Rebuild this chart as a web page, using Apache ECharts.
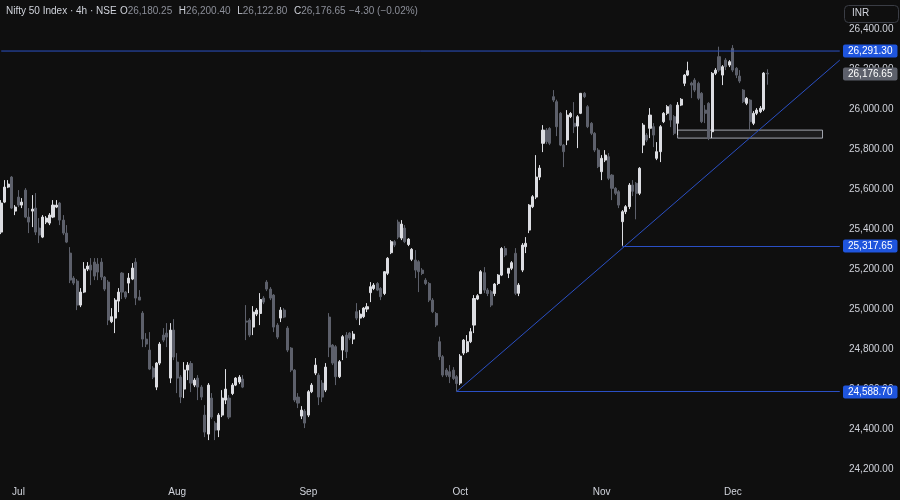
<!DOCTYPE html>
<html><head><meta charset="utf-8">
<script src="https://cdn.jsdelivr.net/npm/echarts@6/dist/echarts.min.js"></script>
<style>html,body{margin:0;padding:0;background:#0f0f0f;}#c{width:900px;height:500px;}</style>
</head><body><div id="c"></div>
<script>
// Nifty 50 Index, 4h candles: [open, close, low, high]
const monthNames = ['Jun','Jul','Aug','Sep','Oct','Nov','Dec'];
const labelledMonths = ['Jul','Aug','Sep','Oct','Nov','Dec'];
const junCandles = [
[25386,25531,25376,25546],[25536,25611,25531,25646],[25611,25626,25606,25646],[25661,25506,25501,25666],[25491,25511,25471,25521]];
const julCandles = [
[25561,25521,25511,25596],[25521,25536,25506,25556],[25596,25461,25456,25606],[25461,25436,25381,25506],[25491,25501,25411,25571],
[25506,25386,25371,25581],[25406,25371,25331,25456],[25361,25461,25356,25471],[25436,25456,25426,25466],[25431,25471,25421,25481],
[25461,25521,25456,25546],[25511,25521,25506,25546],[25531,25446,25421,25536],[25446,25381,25371,25471],[25381,25336,25331,25421],
[25281,25146,25131,25311],[25156,25131,25121,25166],[25141,25021,24996,25151],[25021,25086,25011,25106],[25086,25201,25081,25236],
[25201,25216,25191,25236],[25221,25196,25121,25256],[25236,25166,25146,25256],[25226,25186,25146,25256],[25236,25161,25146,25256],
[25161,25101,25091,25166],[25136,24946,24921,25146],[24938,24963,24931,25006],[24956,25046,24881,25056],[25041,25086,24986,25106],
[25181,25086,25051,25186],[25086,25061,25051,25091],[25131,25156,25081,25181],[25151,25206,25146,25231],[25236,25056,25021,25256],
[25061,25046,25046,25096],[24981,24851,24811,24991],[24851,24826,24811,24881],[24796,24701,24696,24886],[24706,24661,24651,24716],
[24611,24731,24596,24736],[24731,24826,24721,24836],[24871,24846,24836,24906],[24881,24861,24811,24931],[24656,24896,24631,24931],
[24896,24761,24746,24951]];
const augCandles = [
[24736,24656,24581,24781],[24661,24561,24531,24671],[24601,24696,24556,24736],[24696,24721,24646,24736],[24729,24631,24586,24741],
[24621,24646,24611,24656],[24656,24611,24546,24671],[24611,24561,24546,24621],[24471,24386,24361,24521],[24376,24621,24346,24631],
[24556,24461,24451,24581],[24431,24396,24346,24441],[24396,24471,24361,24481],[24471,24556,24461,24596],[24546,24601,24526,24701],
[24556,24461,24451,24571],[24579,24621,24571,24631],[24621,24656,24616,24661],[24636,24661,24626,24671],[24651,24611,24606,24671],
[24941,24936,24846,25021],[24946,24871,24861,24956],[24911,24986,24871,25016],[24976,24996,24966,25006],[24979,25049,24921,25081],
[25056,25036,25026,25066],[25136,25101,25091,25146],[25101,25056,25046,25111],[25071,24911,24886,25076],[24921,24861,24851,24931],
[24956,24996,24936,25011],[24996,24961,24956,25006],[24906,24796,24786,24916],[24806,24696,24686,24811],[24696,24546,24536,24701],
[24561,24531,24506,24581],[24466,24496,24451,24516],[24491,24431,24406,24501]];
const sepCandles = [
[24471,24588,24461,24596],[24588,24621,24581,24631],[24681,24721,24671,24756],[24671,24561,24521,24681],[24631,24561,24536,24646],
[24596,24711,24586,24731],[24961,24811,24761,24981],[24821,24731,24721,24826],[24813,24663,24621,24821],[24663,24738,24656,24746],
[24796,24863,24746,24871],[24871,24788,24756,24886],[24881,24856,24846,24886],[24851,24876,24826,24891],[24988,24956,24946,25031],
[24956,24976,24921,24996],[24963,25006,24956,25011],[25001,25013,24986,25031],[25083,25113,25036,25136],[25104,25121,25096,25131],
[25129,25096,25091,25136],[25104,25063,25046,25111],[25079,25188,25071,25191],[25180,25255,25171,25261],[25283,25338,25276,25346],
[25338,25321,25311,25346],[25436,25361,25351,25448],[25356,25426,25346,25446],[25406,25338,25331,25421],[25324,25351,25316,25356],
[25250,25300,25241,25306],[25246,25196,25156,25296],[25238,25188,25086,25246],[25196,25179,25171,25206],[25146,25129,25121,25156],
[25129,25046,25036,25136],[25046,24988,24981,25056],[24979,24921,24911,24986],[24838,24763,24746,24863],[24763,24671,24661,24771],
[24696,24671,24661,24706],[24688,24663,24631,24721],[24696,24654,24646,24711],[24663,24629,24588.70,24671]];
const octCandles = [
[24631,24766,24621,24776],[24781,24846,24771,24851],[24788,24838,24781,24871],[24838,24888,24831,24906],[24921,25054,24881,25071],
[25051,25068,25046,25076],[25079,25188,25076,25196],[25183,25096,25081,25211],[25096,25079,25066,25106],[25088,25021,25011,25096],
[25079,25126,25066,25131],[25129,25171,25121,25176],[25171,25304,25166,25311],[25304,25271,25261,25316],[25180,25205,25156,25206],
[25205,25233,25196,25241],[25280,25080,25071,25306],[25080,25121,25066,25131],[25196,25321,25186,25331],[25313,25330,25281,25361],
[25396,25521,25381,25526],[25513,25563,25506,25571],[25561,25661,25551,25771],[25661,25706,25646,25721],[25830,25896,25786,25921],
[25896,25838,25826,25906],[25904,25830,25821,25911],[26063,26046,26036,26096],[26038,25913,25866,26048],[25980,25821,25816,25986],
[25821,25788,25711,25826],[25846,25971,25821,25996],[25963,25979,25956,25986],[25930,25913,25881,26036],[25916,25963,25806,25971],
[25980,26080,25976,26081],[26080,26063,26056,26086],[26013,25913,25906,26021],[25930,25880,25871,25936],[25880,25796,25786,25886],
[25796,25713,25706,25806]];
const novCandles = [
[25688,25755,25646,25771],[25746,25771,25736,25796],[25763,25655,25646,25781],[25671,25605,25546,25676],[25605,25580,25571,25611],
[25588,25521,25506,25596],[25438,25488,25317.65,25496],[25488,25513,25476,25521],[25513,25621,25501,25631],[25621,25590,25566,25646],
[25630,25580,25450,25636],[25580,25705,25571,25711],[25821,25921,25781,25931],[25871,25846,25836,25881],[25905,25971,25856,26006],
[25913,25871,25811,25931],[25755,25788,25746,25836],[25788,25913,25736,25921],[25938,25980,25931,25986],[25980,26013,25971,26021],
[26021,25946,25911,26026],[25963,25880,25871,25971],[25930,26021,25871,26036],[26021,26050,26016,26056],[26130,26171,26116,26176],
[26171,26193,26166,26238],[26131,26121,26056,26138],[26146,26096,26086,26156],[26130,26055,26046,26138],[26080,25938,25931,26086],
[25996,25980,25931,26021],[26030,25855,25846,26036],[25888,26180,25856,26186],[26180,26196,26171,26206],[26263,26196,26186,26313],
[26171,26213,26121,26221],[26246,26213,26196,26256],[26221,26238,26211,26246]];
const decCandles = [
[26305,26196,26186,26321],[26205,26171,26156,26211],[26166,26141,26131,26196],[26096,26038,26031,26101],[26030,26055,26021,26061],
[26046,25938,25896,26051],[25930,25980,25921,25991],[25980,25996,25971,26006],[25988,26005,25981,26016],[26000,26180.95,25991,26186],
[26180.25,26176.65,26122.80,26200.40]];
const emptySlots = 21;
// levels drawn on the chart
const resistanceLevel = 26291.30;
const supportLevel = 25317.65;
const swingLowLevel = 24588.70;
const trendEndPrice = 26246;
const zoneTop = 25896, zoneBottom = 25856;
const yTicks = {min: 24200, max: 26400, step: 200};

const monthData = [junCandles, julCandles, augCandles, sepCandles, octCandles, novCandles, decCandles];
const categories = [], candles = [], monthStart = {};
monthData.forEach((arr, m) => {
  arr.forEach((c, k) => {
    if (k === 0) monthStart[categories.length] = monthNames[m];
    categories.push(monthNames[m] + '-' + (k + 1));
    candles.push(c);
  });
});
for (let k = 0; k < emptySlots; k++) categories.push('pad-' + k);
const lastPad = 'pad-' + (emptySlots - 1);
const swingLowCat = 'Sep-' + sepCandles.length;
const supIdx = novCandles.findIndex(c => c[2] === supportLevel);
const supportCat = 'Nov-' + (supIdx + 1);
const zoneStartCat = 'Nov-23';
const zoneEndCat = 'pad-15';

const fmt = v => Number(v).toLocaleString('en-US', {minimumFractionDigits: 2, maximumFractionDigits: 2});
const last = candles[candles.length - 1];
const prev = candles[candles.length - 2];
const chg = last[1] - prev[1];
const chgPct = chg / prev[1] * 100;
const minus = '\u2212';
const sgn = v => (v < 0 ? minus : '+') + Math.abs(v).toFixed(2);

const FONT = "'Liberation Sans', Arial, sans-serif";
const FS = 10;
const LINE_BLUE = '#2a4fc4';
const TAG_BLUE = '#1f55dd';
const TAG_GRAY = '#5d606b';
const TEXT = '#d1d4dc';
const blue = {color: LINE_BLUE, width: 1, type: 'solid'};

const chart = echarts.init(document.getElementById('c'), null, {renderer: 'canvas'});
chart.setOption({
  backgroundColor: '#0f0f0f',
  animation: false,
  grid: {left: -0.5, right: 58.5, top: 29.3, height: 440, containLabel: false, outerBoundsMode: 'none'},
  xAxis: {
    type: 'category', data: categories, boundaryGap: true,
    axisLine: {show: false}, axisTick: {show: false}, splitLine: {show: false},
    axisLabel: {
      color: TEXT, fontSize: FS, fontFamily: FONT, margin: 18, hideOverlap: false,
      interval: (idx) => !!monthStart[idx] && labelledMonths.includes(monthStart[idx]),
      formatter: (v) => v.split('-')[0]
    }
  },
  yAxis: {
    type: 'value', position: 'right', min: yTicks.min, max: yTicks.max, interval: yTicks.step, z: 0,
    axisLine: {show: false}, axisTick: {show: false}, splitLine: {show: false},
    axisLabel: {color: TEXT, fontSize: FS, fontFamily: FONT, margin: 7.5, formatter: v => fmt(v)}
  },
  series: [
    {
      type: 'line', silent: true, symbol: 'none', showSymbol: false, z: 3,
      data: [[categories[0], resistanceLevel], [lastPad, resistanceLevel]],
      lineStyle: {color: LINE_BLUE, width: 1},
      itemStyle: {color: LINE_BLUE},
      emphasis: {disabled: true}
    },
    {
      type: 'candlestick', data: candles, barWidth: '74%', clip: false, z: 2,
      itemStyle: {color: '#dcdde2', color0: '#5d606b', borderColor: '#dcdde2', borderColor0: '#5d606b', borderWidth: 1},
      emphasis: {disabled: true},
      markArea: {
        silent: true,
        data: [[
          {coord: [zoneStartCat, zoneTop], itemStyle: {color: 'rgba(120,123,134,0.12)', borderColor: '#a3a6af', borderWidth: 1}},
          {coord: [zoneEndCat, zoneBottom]}
        ]]
      },
      markLine: {
        silent: true, symbol: ['none', 'none'], animation: false, label: {show: false},
        data: [
          [{coord: [supportCat, supportLevel], lineStyle: blue}, {coord: [lastPad, supportLevel]}],
          [{coord: [swingLowCat, swingLowLevel], lineStyle: blue}, {coord: [lastPad, swingLowLevel]}],
          [{coord: [swingLowCat, swingLowLevel], lineStyle: blue}, {coord: [lastPad, trendEndPrice]}]
        ]
      }
    }
  ]
});

// price tags on the right edge, positioned through the chart's own scales
const band = chart.convertToPixel({xAxisIndex: 0}, categories[1]) - chart.convertToPixel({xAxisIndex: 0}, categories[0]);
const tagX = Math.round(chart.convertToPixel({xAxisIndex: 0}, lastPad) + band / 2 + 1.5);
const tagList = [[resistanceLevel, TAG_BLUE], [supportLevel, TAG_BLUE], [swingLowLevel, TAG_BLUE], [last[1], TAG_GRAY]];
const tagGraphics = tagList.map(([v, bg], i) => ({
  type: 'text', id: 'tag' + i, z: 100, zlevel: 1, silent: true,
  x: tagX, y: Math.round(chart.convertToPixel({yAxisIndex: 0}, v)),
  style: {
    text: fmt(v), fill: '#ffffff', backgroundColor: bg, padding: [2, 5, 1, 5], borderRadius: 2,
    fontSize: FS, fontFamily: FONT, verticalAlign: 'middle', align: 'left'
  }
}));

chart.setOption({
  graphic: [
    {
      type: 'text', id: 'hdr', left: 6, top: 5, silent: true, z: 100,
      style: {
        text: '{t|Nifty 50 Index \u00b7 4h \u00b7 NSE} {k|O}{v|' + fmt(last[0]) + '}  {k|H}{v|' + fmt(last[3]) +
              '}  {k|L}{v|' + fmt(last[2]) + '}  {k|C}{v|' + fmt(last[1]) + '} {v|' + sgn(chg) + ' (' + sgn(chgPct) + '%)}',
        rich: {
          t: {fill: TEXT, fontSize: FS, fontFamily: FONT},
          k: {fill: TEXT, fontSize: FS, fontFamily: FONT},
          v: {fill: '#8c8f99', fontSize: FS, fontFamily: FONT}
        }
      }
    },
    {type: 'rect', id: 'inrBox', left: 844, top: 5, silent: true, z: 100, shape: {width: 54, height: 17, r: 4}, style: {fill: 'transparent', stroke: '#3a3d45', lineWidth: 1}},
    {type: 'text', id: 'inr', left: 852, top: 8, silent: true, z: 100, style: {text: 'INR', fill: TEXT, fontSize: FS, fontFamily: FONT}}
  ].concat(tagGraphics)
});
</script>
</body></html>
